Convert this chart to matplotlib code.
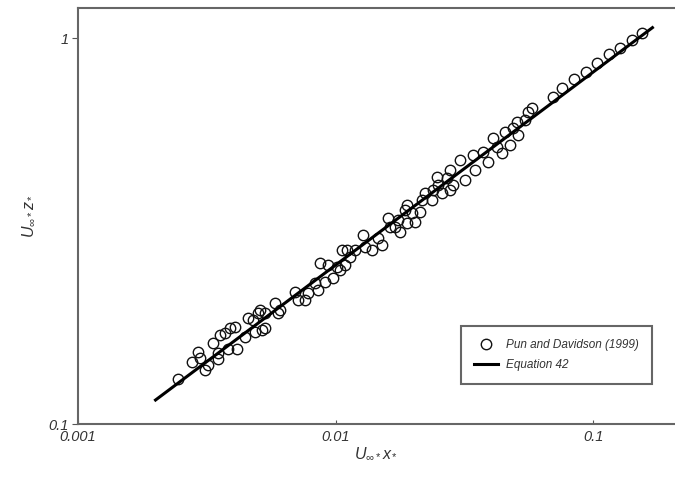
import matplotlib
matplotlib.use("Agg")
import matplotlib.pyplot as plt
import numpy as np

plt.rcParams['font.family'] = ['Liberation Sans', 'DejaVu Sans']
plt.rcParams['mathtext.fontset'] = 'custom'
plt.rcParams['mathtext.it'] = 'Liberation Sans:italic'
plt.rcParams['mathtext.rm'] = 'Liberation Sans'

# Pun and Davidson (1999) data points
pd_x = [0.00245, 0.00292, 0.00298, 0.00311, 0.0032, 0.00334, 0.0035, 0.00356, 0.00372, 0.00382,
        0.00389, 0.00407, 0.00415, 0.00445, 0.00457, 0.00478, 0.005, 0.00518, 0.00487,
        0.00509, 0.00532, 0.00582, 0.00609, 0.00696, 0.00715, 0.00761, 0.00782, 0.00855, 0.00833,
        0.0091, 0.00935, 0.00978, 0.0101, 0.0104, 0.0106, 0.0109, 0.0114,
        0.0111, 0.0119, 0.0128, 0.013, 0.0139, 0.0146, 0.0152, 0.016, 0.0163, 0.017, 0.0175,
        0.0178, 0.0186, 0.019, 0.0198, 0.0204, 0.0213, 0.0217, 0.0223, 0.0237, 0.0239, 0.0248,
        0.025, 0.0259,
        0.0271, 0.0279, 0.0286, 0.0305, 0.0318, 0.0342, 0.0348, 0.0374, 0.0391, 0.0409, 0.0424,
        0.0443, 0.0455, 0.0476, 0.0489, 0.0507, 0.0511, 0.0544, 0.0559, 0.058,
        0.0699, 0.0758, 0.0844, 0.0939, 0.1036, 0.1154, 0.1273, 0.1418, 0.155,
        0.00277, 0.0035, 0.00532, 0.006, 0.0087, 0.019, 0.0279]
pd_y = [0.131, 0.154, 0.148, 0.138, 0.142, 0.162, 0.153, 0.170, 0.172, 0.156,
        0.177, 0.178, 0.156, 0.168, 0.188, 0.186, 0.194, 0.175, 0.173,
        0.197, 0.194, 0.206, 0.197, 0.220, 0.210, 0.210, 0.218, 0.222, 0.232,
        0.233, 0.258, 0.239, 0.255, 0.251, 0.282, 0.258, 0.271,
        0.282, 0.282, 0.309, 0.287, 0.282, 0.303, 0.291, 0.342, 0.324, 0.324, 0.338,
        0.315, 0.358, 0.332, 0.352, 0.334, 0.354, 0.381, 0.397, 0.381, 0.404, 0.436,
        0.416, 0.397,
        0.434, 0.455, 0.416, 0.483, 0.429, 0.498, 0.455, 0.507, 0.477, 0.551, 0.522,
        0.504, 0.571, 0.528, 0.585, 0.606, 0.561, 0.613, 0.643, 0.659,
        0.703, 0.742, 0.783, 0.816, 0.861, 0.909, 0.942, 0.988, 1.03,
        0.145, 0.147, 0.177, 0.194, 0.261, 0.369, 0.404]

# Equation 42 line endpoints
eq_x = [0.002, 0.17]
eq_coef = 2.58
eq_y = [eq_coef * v ** 0.5 for v in eq_x]

fig = plt.figure(figsize=(6.75, 4.94), dpi=100)
ax = fig.add_axes([78/675, 70/494, 597/675, 416/494])

ax.plot(pd_x, pd_y, 'o', mfc='none', mec='#111111', mew=1.0, ms=7.5,
        label='Pun and Davidson (1999)', zorder=3)
ax.plot(eq_x, eq_y, '-', color='black', lw=2.2, label='Equation 42', zorder=4)

ax.set_xscale('log')
ax.set_yscale('log')
ax.set_xlim(0.001, 0.208)
ax.set_ylim(0.1, 1.196)

ax.set_xticks([0.001, 0.01, 0.1])
ax.set_xticklabels(['0.001', '0.01', '0.1'])
ax.set_yticks([0.1, 1])
ax.set_yticklabels(['0.1', '1'])
ax.minorticks_off()

for lab in ax.get_xticklabels() + ax.get_yticklabels():
    lab.set_fontstyle('italic')
    lab.set_fontsize(10.5)
    lab.set_color('#333333')

ax.tick_params(axis='x', direction='in', length=3, color='#555555', pad=4)
ax.tick_params(axis='y', direction='out', length=4, color='#555555', pad=3)

for s in ['left', 'top', 'bottom']:
    ax.spines[s].set_color('#666666')
    ax.spines[s].set_linewidth(1.5)
ax.spines['right'].set_visible(False)

ax.set_xlabel(r'$U_{\infty *}x_*$', fontsize=11.5, color='#333333', labelpad=1)
ax.set_ylabel(r'$U_{\infty *}z_*$', fontsize=11.5, color='#333333', labelpad=8)

leg = ax.legend(loc='lower right', bbox_to_anchor=(0.971, 0.082), fancybox=False,
                framealpha=1, edgecolor='#666666', fontsize=8.5, handlelength=2.0,
                borderpad=1.1, labelspacing=0.7, handletextpad=0.7)
leg.get_frame().set_linewidth(1.5)
for t in leg.get_texts():
    t.set_fontstyle('italic')
    t.set_color('#333333')

fig.savefig('out.png', dpi=100)
